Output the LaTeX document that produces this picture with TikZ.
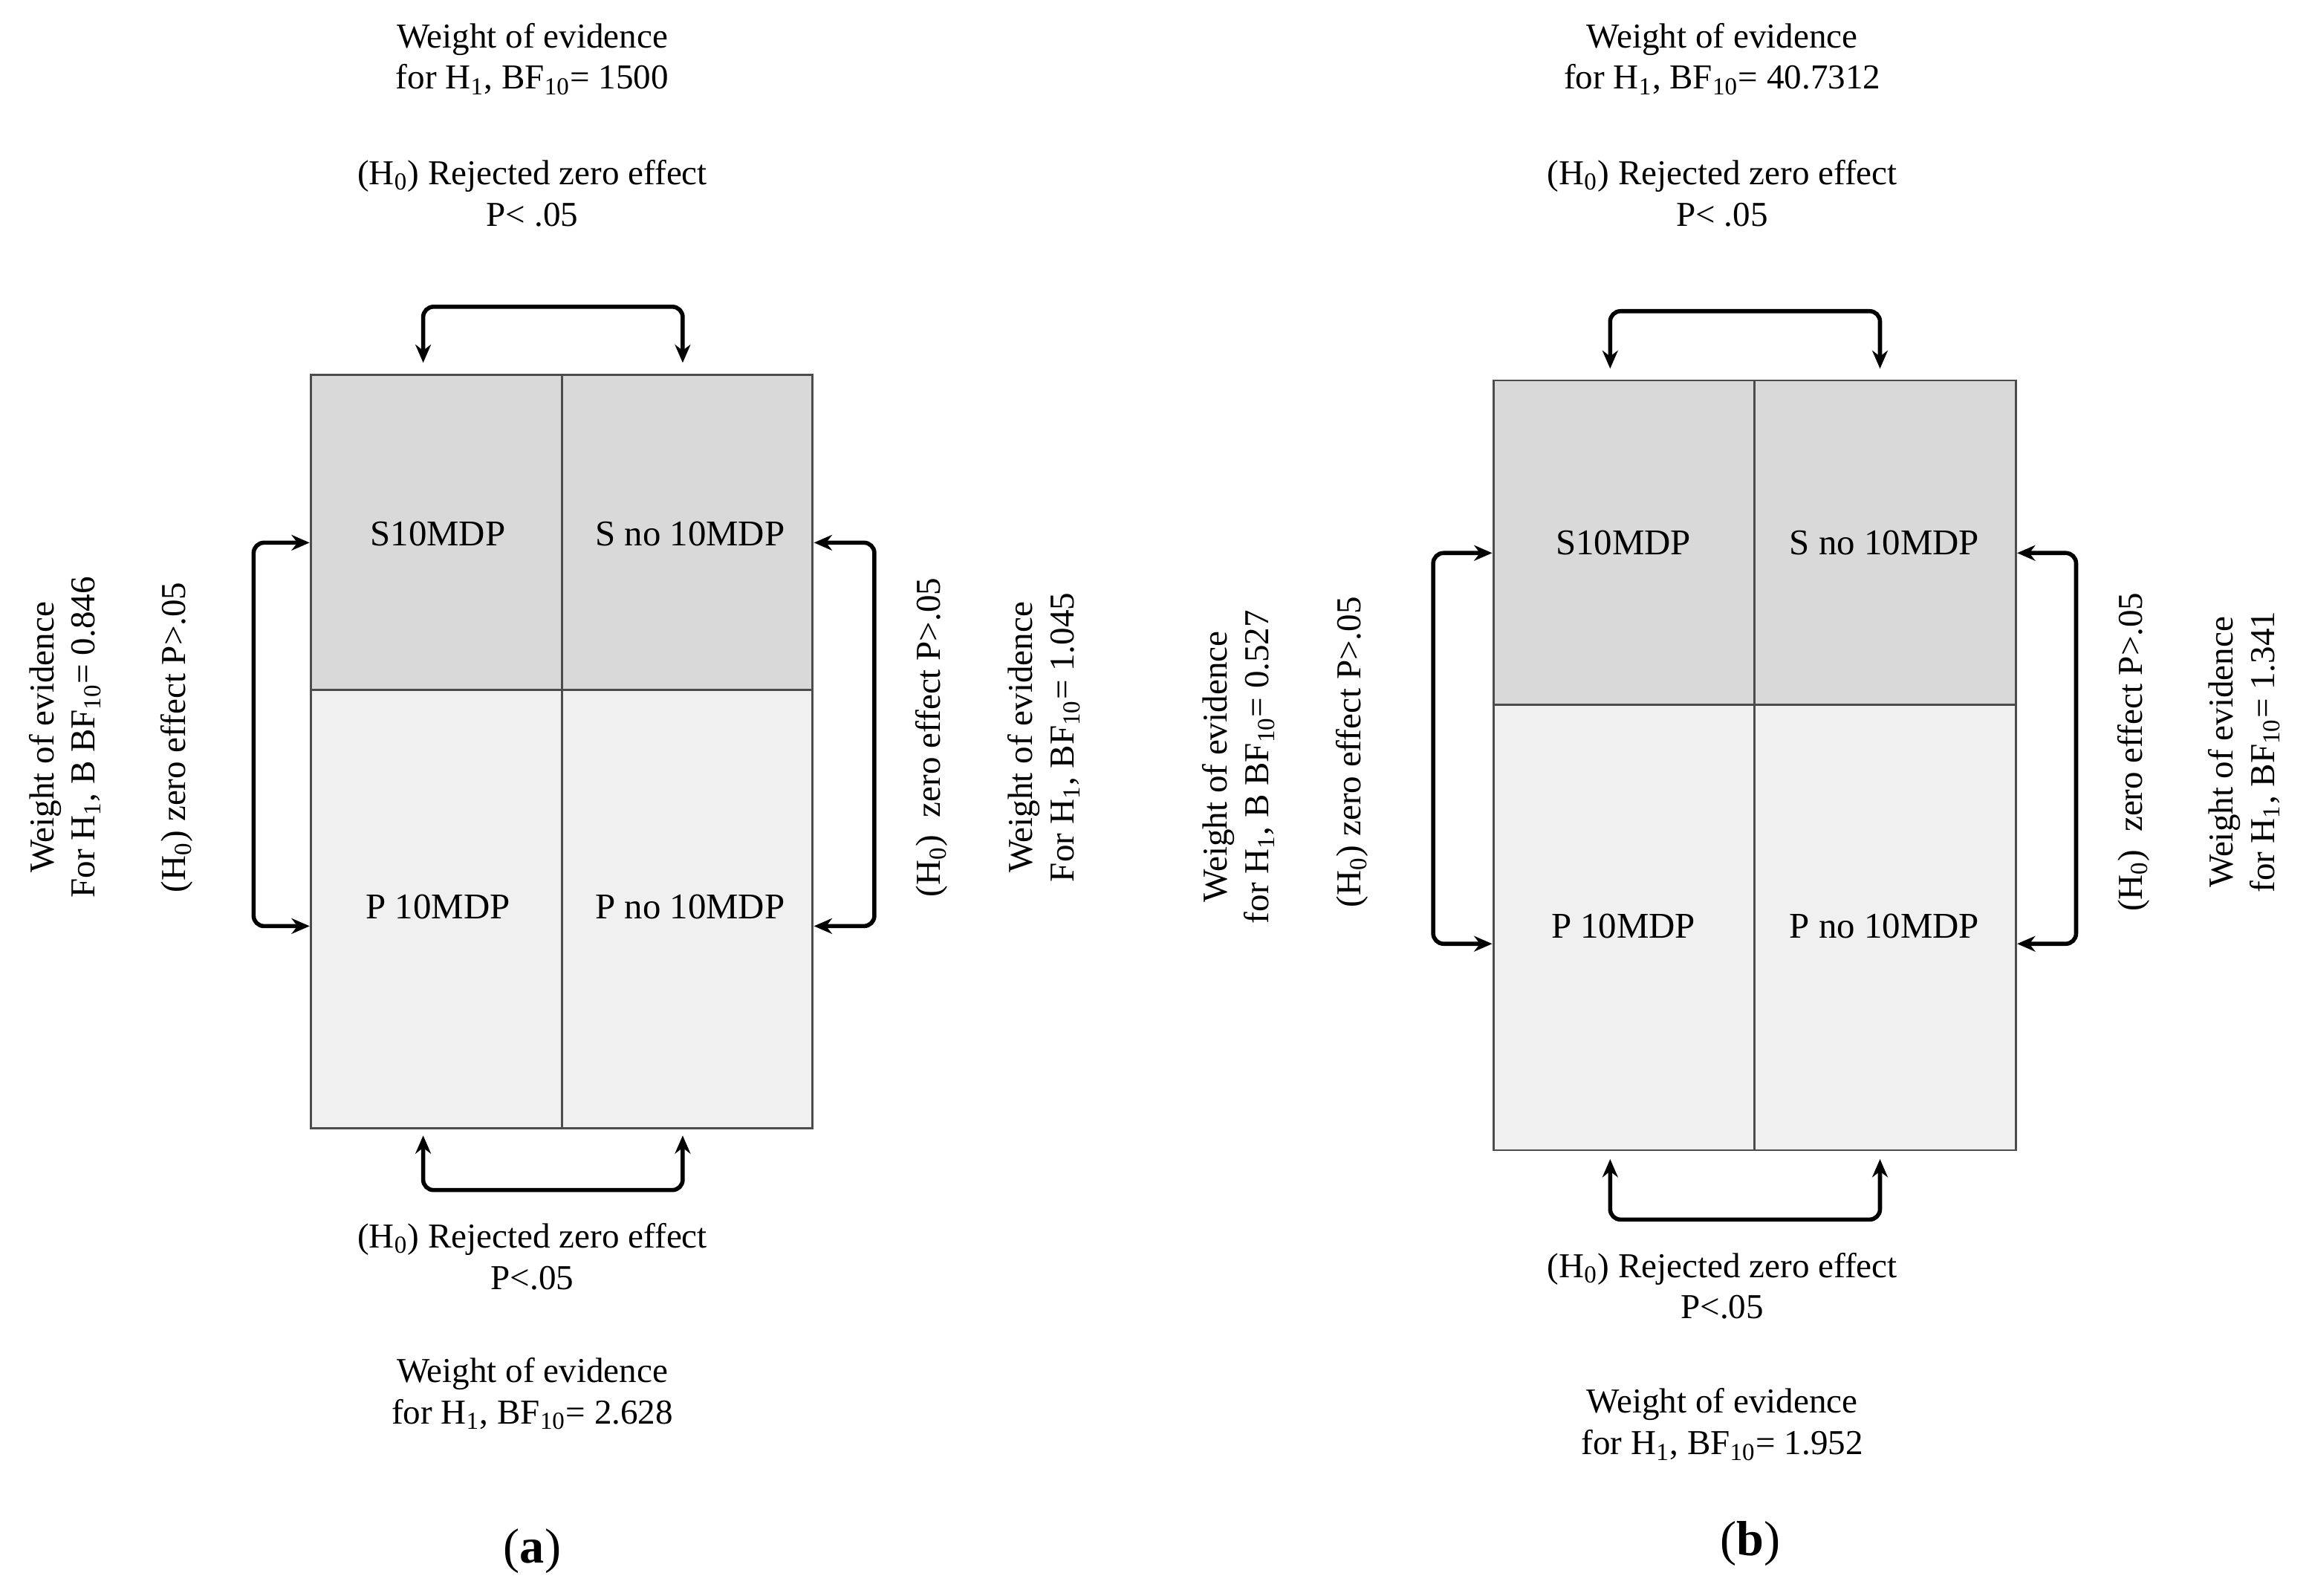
\documentclass[tikz,border=0pt]{standalone}
\usepackage{fontspec}
\setmainfont{Liberation Serif}
\usetikzlibrary{arrows.meta}
\begin{document}
\begin{tikzpicture}[x=0.02cm,y=-0.02cm,
 txt/.style={font=\fontsize{13.5}{16}\selectfont,align=center,inner sep=0},
 lbl/.style={font=\fontsize{14}{17}\selectfont,inner sep=0},
 captxt/.style={font=\fontsize{19}{22}\selectfont,inner sep=0},
 br/.style={line width=1.6pt,rounded corners=4,{Stealth[length=7pt,width=6pt]}-{Stealth[length=7pt,width=6pt]}},
 cellA/.style={draw=black!70,line width=0.8pt,fill=black!15},
 cellB/.style={draw=black!70,line width=0.8pt,fill=black!6}]
\useasboundingbox (0,0) rectangle (1568,1082);
\newcommand\hone{H\textsubscript{1}}
\newcommand\hzero{H\textsubscript{0}}
\newcommand\bften{BF\textsubscript{10}}
% panel a
\draw[cellA] (211,254) rectangle (381,468); \draw[cellA] (381,254) rectangle (551,468);
\draw[cellB] (211,468) rectangle (381,765); \draw[cellB] (381,468) rectangle (551,765);
\node[lbl] (a1) at (297,362) {S10MDP};
\node[lbl] (a2) at (468,362) {S no 10MDP};
\node[lbl] (a3) at (297,615) {P 10MDP};
\node[lbl] (a4) at (468,615) {P no 10MDP};
\coordinate (at1) at (287,246); \coordinate (at2) at (463,246);
\draw[br] (at1) -- (287,208) -- (463,208) -- (at2);
\coordinate (ab1) at (287,770); \coordinate (ab2) at (463,770);
\draw[br] (ab1) -- (287,807) -- (463,807) -- (ab2);
\coordinate (al1) at (210,368); \coordinate (al2) at (210,628);
\draw[br] (al1) -- (172,368) -- (172,628) -- (al2);
\coordinate (ar1) at (552,368); \coordinate (ar2) at (552,628);
\draw[br] (ar1) -- (593,368) -- (593,628) -- (ar2);
\node[txt] (at) at (361,40) {Weight of evidence\\for \hone, \bften= 1500};
\node[txt] (ah) at (361,131) {(\hzero) Rejected zero effect\\P< .05};
\node[txt] (bh) at (361,852) {(\hzero) Rejected zero effect\\P<.05};
\node[txt] (bw) at (361,945) {Weight of evidence\\for \hone, \bften= 2.628};
\node[captxt] (ca) at (361,1052) {(\textbf{a})};
\node[txt,rotate=90] (alz) at (120,500) {(\hzero) zero effect P>.05};
\node[txt,rotate=90] (alw) at (44,500) {Weight of evidence\\For \hone, B \bften= 0.846};
\node[txt,rotate=90] (arz) at (632,500) {(\hzero)\ \ zero effect P>.05};
\node[txt,rotate=90] (arw) at (708,500) {Weight of evidence\\For \hone, \bften= 1.045};
% panel b
\draw[cellA] (1013,258) rectangle (1190,478); \draw[cellA] (1190,258) rectangle (1367,478);
\draw[cellB] (1013,478) rectangle (1190,780); \draw[cellB] (1190,478) rectangle (1367,780);
\node[lbl] (b1) at (1101,368) {S10MDP};
\node[lbl] (b2) at (1278,368) {S no 10MDP};
\node[lbl] (b3) at (1101,628) {P 10MDP};
\node[lbl] (b4) at (1278,628) {P no 10MDP};
\coordinate (bt1) at (1092,250); \coordinate (bt2) at (1275,250);
\draw[br] (bt1) -- (1092,211) -- (1275,211) -- (bt2);
\coordinate (bb1) at (1092,786); \coordinate (bb2) at (1275,786);
\draw[br] (bb1) -- (1092,827) -- (1275,827) -- (bb2);
\coordinate (bl1) at (1012,375); \coordinate (bl2) at (1012,640);
\draw[br] (bl1) -- (972,375) -- (972,640) -- (bl2);
\coordinate (bR1) at (1368,375); \coordinate (bR2) at (1368,640);
\draw[br] (bR1) -- (1408,375) -- (1408,640) -- (bR2);
\node[txt] (bT) at (1168,40) {Weight of evidence\\for \hone, \bften= 40.7312};
\node[txt] (bH) at (1168,131) {(\hzero) Rejected zero effect\\P< .05};
\node[txt] (bBH) at (1168,872) {(\hzero) Rejected zero effect\\P<.05};
\node[txt] (bBW) at (1168,966) {Weight of evidence\\for \hone, \bften= 1.952};
\node[captxt] (cb) at (1187,1047) {(\textbf{b})};
\node[txt,rotate=90] (blz) at (917,510) {(\hzero) zero effect P>.05};
\node[txt,rotate=90] (blw) at (840,520) {Weight of evidence\\for \hone, B \bften= 0.527};
\node[txt,rotate=90] (brz) at (1447,510) {(\hzero)\ \ zero effect P>.05};
\node[txt,rotate=90] (brw) at (1522,510) {Weight of evidence\\for \hone, \bften= 1.341};
\end{tikzpicture}
\end{document}
